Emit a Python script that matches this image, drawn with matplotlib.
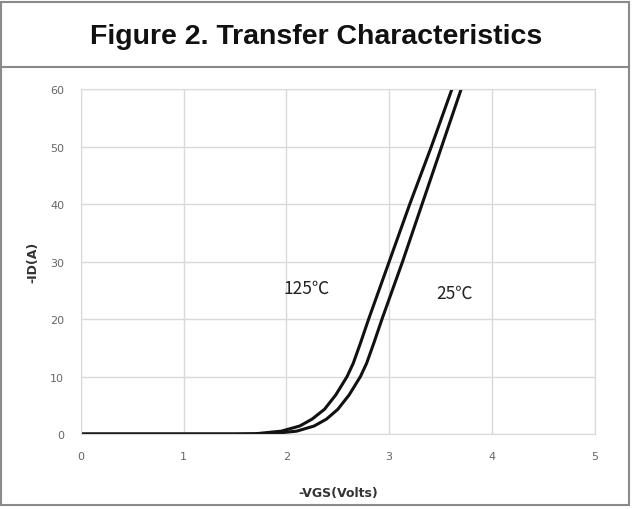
import numpy as np
import matplotlib.pyplot as plt
from matplotlib.patches import Rectangle
from matplotlib.lines import Line2D

# -VGS (V) vs -ID (A)
vgs_125 = [0.0, 1.5, 1.7, 1.95, 2.13, 2.25, 2.37, 2.48, 2.59, 2.65, 2.72, 2.8, 3.0, 3.2, 3.41, 3.61]
id_125 = [0.0, 0.0, 0.05, 0.5, 1.4, 2.6, 4.3, 6.8, 10.0, 12.3, 15.8, 20.0, 30.0, 40.0, 50.0, 60.0]
vgs_25 = [0.0, 1.6, 1.85, 2.1, 2.27, 2.39, 2.5, 2.61, 2.72, 2.78, 2.85, 2.93, 3.13, 3.32, 3.51, 3.70]
id_25 = [0.0, 0.0, 0.05, 0.5, 1.4, 2.6, 4.3, 6.8, 10.0, 12.3, 15.8, 20.0, 30.0, 40.0, 50.0, 60.0]

x_ticks = [0, 1, 2, 3, 4, 5]
y_ticks = [0, 10, 20, 30, 40, 50, 60]

fig = plt.figure(figsize=(6.32, 5.10), dpi=100)

# outer frame and title box
fig.patches.append(Rectangle((0.002, 0.008), 0.994, 0.986, transform=fig.transFigure,
                             fill=False, edgecolor='#8a8a8a', linewidth=1.5))
fig.lines.append(Line2D([0.002, 0.996], [0.866, 0.866], transform=fig.transFigure,
                        color='#8a8a8a', linewidth=1.5))
fig.text(0.5, 0.928, 'Figure 2. Transfer Characteristics', ha='center', va='center',
         fontsize=20.5, fontweight='bold', family='Liberation Sans', color='#111111')

ax = fig.add_axes([0.128, 0.147, 0.813, 0.676])
ax.plot(vgs_125, id_125, color='#111111', linewidth=2.2, solid_joinstyle='round')
ax.plot(vgs_25, id_25, color='#111111', linewidth=2.2, solid_joinstyle='round')

ax.set_xlim(0, 5)
ax.set_ylim(0, 60)
ax.set_xticks(x_ticks)
ax.set_yticks(y_ticks)
ax.grid(color='#d9d9d9', linewidth=1)
ax.set_axisbelow(True)
for s in ax.spines.values():
    s.set_color('#d9d9d9')
ax.tick_params(length=0, labelsize=8, colors='#666666', pad=12)

ax.set_xlabel('-VGS(Volts)', fontsize=9, fontweight='bold', color='#333333', labelpad=18)
ax.set_ylabel('-ID(A)', fontsize=9, fontweight='bold', color='#333333', labelpad=8)

ax.text(2.2, 25.5, '125℃', fontsize=12.5, family=['Noto Sans CJK SC', 'DejaVu Sans'],
        color='#222222', ha='center', va='center')
ax.text(3.64, 24.5, '25℃', fontsize=12.5, family=['Noto Sans CJK SC', 'DejaVu Sans'],
        color='#222222', ha='center', va='center')

fig.savefig('out.png', dpi=100)
